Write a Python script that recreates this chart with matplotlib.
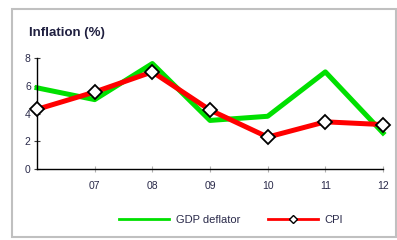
import matplotlib
matplotlib.use("Agg")
import matplotlib.pyplot as plt
from matplotlib.lines import Line2D
from matplotlib.patches import Rectangle

plt.rcParams["font.family"] = ["Liberation Sans", "DejaVu Sans"]

years = ["06", "07", "08", "09", "10", "11", "12"]
gdp_deflator = [5.85, 5.0, 7.6, 3.5, 3.8, 7.0, 2.6]
cpi = [4.3, 5.55, 7.0, 4.25, 2.3, 3.4, 3.2]
yticks = [0, 2, 4, 6, 8]

W, H = 397, 240
fig = plt.figure(figsize=(W / 100, H / 100), dpi=100)
fig.patch.set_facecolor("white")

# outer frame
fig.add_artist(Rectangle((12 / W, 1 - 237 / H), (396 - 12) / W, (237 - 9) / H,
                         transform=fig.transFigure, fill=False,
                         edgecolor="#c0c0c0", linewidth=1.5))

left, right = 37, 383
top, bottom = 58, 169
ax = fig.add_axes([left / W, 1 - bottom / H, (right - left) / W, (bottom - top) / H])
ax.patch.set_alpha(0)
x = list(range(len(years)))
ax.plot(x, gdp_deflator, color="#00e000", lw=3.6, zorder=2, clip_on=False)
ax.plot(x, cpi, color="#ff0000", lw=3.6, marker="D", markersize=7.5,
        markerfacecolor="white", markeredgecolor="black", markeredgewidth=1.3,
        zorder=3, clip_on=False)
ax.set_xlim(0, len(years) - 1)
ax.set_ylim(0, 8)
for s in ["top", "right"]:
    ax.spines[s].set_visible(False)
for s in ["left", "bottom"]:
    ax.spines[s].set_color("black")
    ax.spines[s].set_linewidth(1.0)
ax.set_yticks(yticks)
ax.set_xticks(x[1:])
ax.set_xticklabels(years[1:])
ax.tick_params(axis="both", direction="inout", length=5, width=0.8,
               colors="#404040", labelsize=7.5, labelcolor="#2a2a4a")
ax.tick_params(axis="x", pad=6, color="#b0b0b0")
ax.tick_params(axis="y", pad=2)

fig.text(29 / W, 1 - 33 / H, "Inflation (%)", fontsize=9.5, fontweight="bold",
         color="#1f1f3f", va="center", ha="left")

handles = [Line2D([], [], color="#00e000", lw=2.0),
           Line2D([], [], color="#ff0000", lw=2.0, marker="D", markersize=4,
                  markerfacecolor="white", markeredgecolor="black",
                  markeredgewidth=1.0)]
fig.legend(handles, ["GDP deflator", "CPI"], loc="center",
           bbox_to_anchor=(231 / W, 1 - 220 / H), ncol=2, frameon=False,
           fontsize=8, handlelength=4.5, columnspacing=2.5, handletextpad=0.6,
           labelcolor="#2a2a4a")

fig.savefig("out.png", dpi=100)
